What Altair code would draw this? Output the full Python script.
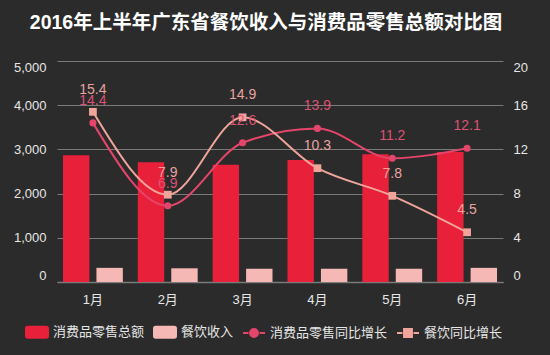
import altair as alt
import pandas as pd

months = ["1月", "2月", "3月", "4月", "5月", "6月"]
retail_total = [2870, 2710, 2650, 2760, 2890, 2940]
catering_income = [320, 310, 300, 300, 300, 320]
retail_growth = [14.4, 6.9, 12.6, 13.9, 11.2, 12.1]
catering_growth = [15.4, 7.9, 14.9, 10.3, 7.8, 4.5]

S1, S2, S3, S4 = "消费品零售总额", "餐饮收入", "消费品零售同比增长", "餐饮同比增长"
series_names = [S1, S2, S3, S4]
series_colors = ["#e8203a", "#f5b8b4", "#e5456a", "#f0a49a"]
legend_shapes = [
    "M-0.85,-0.5H0.85A0.15,0.15 0 0 1 1,-0.35V0.35A0.15,0.15 0 0 1 0.85,0.5H-0.85A0.15,0.15 0 0 1 -1,0.35V-0.35A0.15,0.15 0 0 1 -0.85,-0.5Z",
    "M-0.85,-0.5H0.85A0.15,0.15 0 0 1 1,-0.35V0.35A0.15,0.15 0 0 1 0.85,0.5H-0.85A0.15,0.15 0 0 1 -1,0.35V-0.35A0.15,0.15 0 0 1 -0.85,-0.5Z",
    "M-1,0H-0.5M0.5,0H1M-0.36,0A0.36,0.36 0 1 0 0.36,0A0.36,0.36 0 1 0 -0.36,0Z",
    "M-1,0H-0.5M0.5,0H1M-0.36,-0.36H0.36V0.36H-0.36Z",
]

FONT = "Liberation Sans, Noto Sans CJK SC, sans-serif"
TXT = "#e6e6e6"
GRID = "#7a7a7a"

bars_df = pd.DataFrame({
    "month": months * 2,
    "series": [S1] * 6 + [S2] * 6,
    "value": retail_total + catering_income,
})
lines_df = pd.DataFrame({
    "month": months * 2,
    "series": [S3] * 6 + [S4] * 6,
    "value": retail_growth + catering_growth,
})
legend_df = pd.DataFrame({"series": series_names})

color_scale = alt.Scale(domain=series_names, range=series_colors)
shape_scale = alt.Scale(domain=series_names, range=legend_shapes)

leg = alt.Legend(
    title=None, orient="none", legendX=-32, legendY=259, direction="horizontal", columns=4,
    labelColor=TXT, labelFontSize=13, labelFont=FONT, labelOffset=4,
    symbolSize=484, columnPadding=5, labelLimit=200,
    symbolOpacity=1, symbolStrokeWidth=2,
)

x_enc = alt.X(
    "month:N", sort=months, title=None,
    scale=alt.Scale(paddingInner=0.2, paddingOuter=0.08),
    axis=alt.Axis(labelAngle=0, labelColor=TXT, labelFontSize=13, labelFont=FONT,
                  domainColor=GRID, domainWidth=1.5, ticks=False, labelPadding=11, grid=False),
)

bars = alt.Chart(bars_df).mark_bar().encode(
    x=x_enc,
    xOffset=alt.XOffset("series:N", sort=[S1, S2], scale=alt.Scale(paddingInner=0.21)),
    y=alt.Y("value:Q", title=None,
            scale=alt.Scale(domain=[0, 5000]),
            axis=alt.Axis(orient="left", values=[0, 1000, 2000, 3000, 4000, 5000], format=",.0f",
                          labelColor=TXT, labelFontSize=13, labelFont=FONT, labelFlush=True,
                          ticks=False, domain=False, labelPadding=11,
                          grid=True, gridColor=GRID, gridWidth=1,
                          minExtent=45, maxExtent=45)),
    color=alt.Color("series:N", scale=color_scale, legend=leg),
)

y_right = alt.Y("value:Q", title=None,
                scale=alt.Scale(domain=[0, 20]),
                axis=alt.Axis(orient="right", values=[0, 4, 8, 12, 16, 20],
                              labelColor=TXT, labelFontSize=13, labelFont=FONT, labelFlush=True,
                              ticks=False, domain=False, labelPadding=10, grid=False))

base = alt.Chart(lines_df).encode(x=x_enc, y=y_right)

line = base.mark_line(interpolate="monotone", strokeWidth=2).encode(
    color=alt.Color("series:N", scale=color_scale, legend=leg))
circles = base.transform_filter(alt.datum.series == S3).mark_point(
    shape="circle", filled=True, size=50, opacity=1, color="#e5456a")
squares = base.transform_filter(alt.datum.series == S4).mark_point(
    shape="square", filled=True, size=60, opacity=1, color="#f0a49a")
t1 = base.transform_filter(alt.datum.series == S3).mark_text(
    dy=-22, fontSize=14, font=FONT, color="#dc5274").encode(text=alt.Text("value:Q", format=".1f"))
t2 = base.transform_filter(alt.datum.series == S4).mark_text(
    dy=-22, fontSize=14, font=FONT, color="#e8a3a0").encode(text=alt.Text("value:Q", format=".1f"))

lines_layer = alt.layer(line, circles, squares, t1, t2)

legend_layer = alt.Chart(legend_df).mark_point(opacity=0, filled=True).encode(
    x=alt.value(0), y=alt.value(0),
    color=alt.Color("series:N", scale=color_scale, legend=leg),
    stroke=alt.Stroke("series:N", scale=color_scale, legend=leg),
    shape=alt.Shape("series:N", scale=shape_scale, legend=leg),
)

chart = alt.layer(legend_layer, bars, lines_layer).resolve_scale(y="independent").properties(
    width=446, height=221,
    autosize=alt.AutoSizeParams(type="none"),
    padding={"left": 57, "top": 61, "right": 47, "bottom": 73},
    background="#2b2b2b",
    title=alt.TitleParams(
        "2016年上半年广东省餐饮收入与消费品零售总额对比图",
        color="#ffffff", fontSize=19.5, font=FONT, fontWeight="bold",
        anchor="middle", offset=26, dx=-14,
    ),
).configure_view(stroke=None)

chart.save("out.html", embed_options={"renderer": "svg", "actions": False})
